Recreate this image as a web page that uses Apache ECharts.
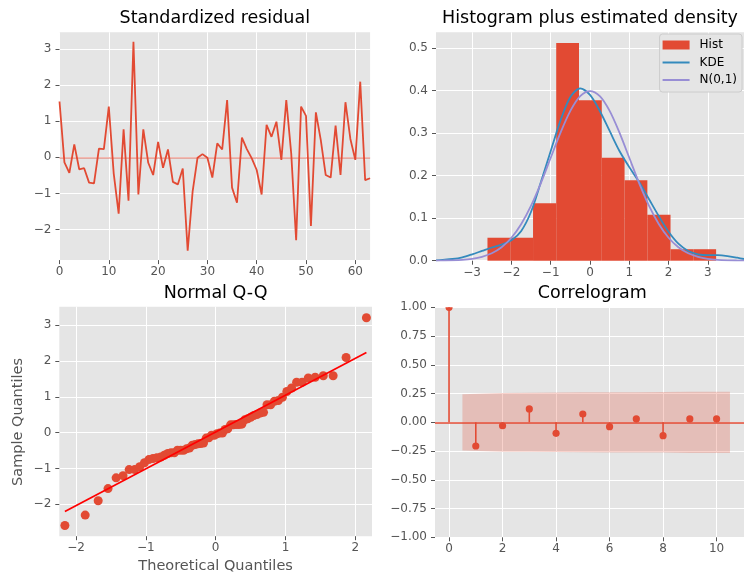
<!DOCTYPE html>
<html><head><meta charset="utf-8">
<script src="https://cdn.jsdelivr.net/npm/echarts@6/dist/echarts.min.js"></script>
<style>html,body{margin:0;padding:0;background:#fff}#c{width:744px;height:576px}</style>
</head><body><div id="c"></div>
<script>
// ---------- Standardized residual ----------
const residuals = [1.55, -0.14, -0.43, 0.36, -0.33, -0.30, -0.70, -0.72, 0.24, 0.23,
  1.41, -0.45, -1.56, 0.78, -1.20, 3.21, -1.03, 0.78, -0.15, -0.49,
  0.43, -0.29, 0.22, -0.68, -0.75, -0.31, -2.59, -0.95, -0.01, 0.09,
  -0.01, -0.56, 0.39, 0.22, 1.59, -0.84, -1.26, 0.55, 0.23, -0.03,
  -0.35, -1.03, 0.90, 0.57, 0.99, -0.07, 1.59, 0.11, -2.30, 1.41,
  1.15, -1.90, 1.25, 0.48, -0.49, -0.56, 0.88, -0.49, 1.53, 0.51,
  -0.07, 2.10, -0.63, -0.58];
const residXTicks = [0, 10, 20, 30, 40, 50, 60];
const residYTicks = [-2, -1, 0, 1, 2, 3];

// ---------- Histogram plus estimated density ----------
const histEdges = [-2.61, -2.03, -1.45, -0.86, -0.28, 0.30, 0.88, 1.46, 2.05, 2.63, 3.21];
const histDensity = [0.054, 0.054, 0.135, 0.512, 0.377, 0.242, 0.189, 0.108, 0.027, 0.027];
const densityX = [-3.92, -3.75, -3.5, -3.25, -3, -2.75, -2.5, -2.25, -2, -1.75, -1.5, -1.25, -1, -0.75, -0.5, -0.25,
  0, 0.25, 0.5, 0.75, 1, 1.25, 1.5, 1.75, 2, 2.25, 2.5, 2.75, 3, 3.25, 3.5, 3.75, 3.92];
const kdeY = [0.001, 0.002, 0.004, 0.008, 0.015, 0.023, 0.031, 0.038, 0.048, 0.070, 0.115, 0.185, 0.258, 0.330, 0.385, 0.405,
  0.390, 0.352, 0.305, 0.258, 0.220, 0.185, 0.145, 0.105, 0.068, 0.040, 0.023, 0.015, 0.013, 0.013, 0.011, 0.007, 0.004];
const normY = [0.0002, 0.0004, 0.0009, 0.0020, 0.0044, 0.0091, 0.0175, 0.0317, 0.0540, 0.0863, 0.1295, 0.1826, 0.2420, 0.3011, 0.3521, 0.3867,
  0.3989, 0.3867, 0.3521, 0.3011, 0.2420, 0.1826, 0.1295, 0.0863, 0.0540, 0.0317, 0.0175, 0.0091, 0.0044, 0.0020, 0.0009, 0.0004, 0.0002];
const histXTicks = [-3, -2, -1, 0, 1, 2, 3];
const histYTicks = [0, 0.1, 0.2, 0.3, 0.4, 0.5];

// ---------- Normal Q-Q ----------
const qqTheoretical = [-2.160, -1.869, -1.683, -1.542, -1.426, -1.327, -1.239, -1.160, -1.088, -1.020, -0.957, -0.898, -0.842, -0.788, -0.736, -0.686,
  -0.638, -0.592, -0.547, -0.502, -0.459, -0.417, -0.375, -0.334, -0.293, -0.253, -0.214, -0.174, -0.135, -0.097, -0.058, -0.019,
  0.019, 0.058, 0.097, 0.135, 0.174, 0.214, 0.253, 0.293, 0.334, 0.375, 0.417, 0.459, 0.502, 0.547, 0.592, 0.638,
  0.686, 0.736, 0.788, 0.842, 0.898, 0.957, 1.020, 1.088, 1.160, 1.239, 1.327, 1.426, 1.542, 1.683, 1.869, 2.160];
const qqSample = [-2.59, -2.30, -1.90, -1.56, -1.26, -1.20, -1.03, -1.03, -0.95, -0.84,
  -0.75, -0.72, -0.70, -0.68, -0.63, -0.58, -0.56, -0.56, -0.49, -0.49,
  -0.49, -0.45, -0.43, -0.35, -0.33, -0.31, -0.30, -0.29, -0.15, -0.14,
  -0.07, -0.07, -0.03, -0.01, -0.01, 0.09, 0.11, 0.22, 0.22, 0.23,
  0.23, 0.24, 0.36, 0.39, 0.43, 0.48, 0.51, 0.55, 0.57, 0.78,
  0.78, 0.88, 0.90, 0.99, 1.15, 1.25, 1.41, 1.41, 1.53, 1.55,
  1.59, 1.59, 2.10, 3.21];
const qqLineX = [-2.16, 2.16];
const qqLineY = [-2.20, 2.24];
const qqXTicks = [-2, -1, 0, 1, 2];
const qqYTicks = [-2, -1, 0, 1, 2, 3];

// ---------- Correlogram ----------
const acfLags = [0, 1, 2, 3, 4, 5, 6, 7, 8, 9, 10];
const acfValues = [1.0, -0.206, -0.030, 0.116, -0.096, 0.072, -0.038, 0.029, -0.116, 0.029, 0.029];
const bandX = [0.5, 2, 3, 4, 5, 6, 7, 8, 9, 10.5];
const bandUpper = [0.245, 0.255, 0.256, 0.259, 0.261, 0.262, 0.262, 0.263, 0.266, 0.266];
const bandLower = [-0.245, -0.255, -0.256, -0.259, -0.261, -0.262, -0.262, -0.263, -0.266, -0.266];
const acfXTicks = [0, 2, 4, 6, 8, 10];
const acfYTicks = [-1, -0.75, -0.5, -0.25, 0, 0.25, 0.5, 0.75, 1];

// ---------- styling ----------
const FONT = 'DejaVu Sans';
const RED = '#E24A33', BLUE = '#348ABD', PURPLE = '#988ED5';
const LINE_ICON = 'path://M0,0H27V2H0Z';
function fmt(d) { return v => Number(v).toFixed(d).replace('-', '\u2212'); }
function axis(gridIndex, min, max, step, ticks, dec, margin) {
  return {
    type: 'value', gridIndex, min, max, minInterval: step, maxInterval: step,
    axisLine: { show: false, onZero: false },
    axisTick: { show: true, inside: false, length: 4, lineStyle: { color: '#555555', width: 1 }, customValues: ticks },
    axisLabel: { customValues: ticks, color: '#555555', fontSize: 12, fontFamily: FONT, margin: margin, formatter: fmt(dec) },
    splitLine: { show: true, lineStyle: { color: '#ffffff', width: 1 } }
  };
}
const gridBase = { show: true, backgroundColor: '#E5E5E5', borderWidth: 0, containLabel: false };

const chart = echarts.init(document.getElementById('c'), null, { renderer: 'canvas', width: 744, height: 576 });

const histItems = histDensity.map((h, i) => [histEdges[i], histEdges[i + 1], h]);

const option = {
  backgroundColor: '#ffffff',
  animation: false,
  grid: [
    Object.assign({ left: 59.5, top: 32.3, width: 310.6, height: 227.8 }, gridBase),
    Object.assign({ left: 436, top: 32.3, width: 311.5, height: 228.4 }, gridBase),
    Object.assign({ left: 59.3, top: 306.7, width: 312.7, height: 229.5 }, gridBase),
    Object.assign({ left: 435, top: 307.3, width: 314.6, height: 230 }, gridBase)
  ],
  xAxis: [
    axis(0, 0, 63, 10, residXTicks, 0, 6),
    axis(1, -3.92, 3.92, 1, histXTicks, 0, 6),
    axis(2, -2.24, 2.24, 1, qqXTicks, 0, 6),
    axis(3, -0.525, 11.025, 2, acfXTicks, 0, 6)
  ],
  yAxis: [
    axis(0, -2.85, 3.47, 1, residYTicks, 0, 8),
    axis(1, 0, 0.537, 0.1, histYTicks, 1, 8),
    axis(2, -2.89, 3.52, 1, qqYTicks, 0, 8),
    axis(3, -1, 1, 0.25, acfYTicks, 2, 8)
  ],
  legend: {
    data: [{ name: 'Hist', icon: 'rect' }, { name: 'KDE', icon: LINE_ICON }, { name: 'N(0,1)', icon: LINE_ICON }],
    orient: 'vertical', right: 2, top: 34,
    itemWidth: 27, itemHeight: 9, itemGap: 5.5, symbolKeepAspect: true,
    textStyle: { fontFamily: FONT, fontSize: 12, color: '#000000', padding: [0, 0, 0, 5] },
    backgroundColor: '#E5E5E5', borderColor: '#CCCCCC', borderWidth: 1, borderRadius: 3,
    padding: [5, 5, 6, 3], selectedMode: false
  },
  series: [
    {
      type: 'line', xAxisIndex: 0, yAxisIndex: 0,
      data: residuals.map((v, i) => [i, v]),
      symbol: 'none', lineStyle: { color: RED, width: 1.8 }, z: 3,
      markLine: { silent: true, symbol: 'none', label: { show: false },
        lineStyle: { color: RED, opacity: 0.5, width: 1.6, type: 'solid' },
        data: [{ yAxis: 0 }] }
    },
    {
      name: 'Hist', type: 'custom', xAxisIndex: 1, yAxisIndex: 1,
      data: histItems, encode: { x: [0, 1], y: 2 },
      itemStyle: { color: RED },
      renderItem: function (params, api) {
        const p0 = api.coord([api.value(0), api.value(2)]);
        const p1 = api.coord([api.value(1), 0]);
        return { type: 'rect', shape: { x: p0[0], y: p0[1], width: p1[0] - p0[0], height: p1[1] - p0[1] },
          style: { fill: RED } };
      }, z: 2
    },
    {
      name: 'KDE', type: 'line', xAxisIndex: 1, yAxisIndex: 1,
      data: densityX.map((x, i) => [x, kdeY[i]]), smooth: 0.3,
      symbol: 'none', lineStyle: { color: BLUE, width: 1.8 }, itemStyle: { color: BLUE }, z: 4
    },
    {
      name: 'N(0,1)', type: 'line', xAxisIndex: 1, yAxisIndex: 1,
      data: densityX.map((x, i) => [x, normY[i]]), smooth: 0.3,
      symbol: 'none', lineStyle: { color: PURPLE, width: 1.8 }, itemStyle: { color: PURPLE }, z: 4
    },
    {
      type: 'scatter', xAxisIndex: 2, yAxisIndex: 2,
      data: qqTheoretical.map((x, i) => [x, qqSample[i]]),
      symbolSize: 9, itemStyle: { color: RED, opacity: 1 }, z: 3
    },
    {
      type: 'line', xAxisIndex: 2, yAxisIndex: 2,
      data: qqLineX.map((x, i) => [x, qqLineY[i]]),
      symbol: 'none', lineStyle: { color: '#FF0000', width: 1.7 }, z: 4
    },
    {
      type: 'custom', xAxisIndex: 3, yAxisIndex: 3,
      data: acfLags.map((l, i) => [l, acfValues[i]]),
      renderItem: function (params, api) {
        const a = api.coord([api.value(0), 0]);
        const b = api.coord([api.value(0), api.value(1)]);
        return { type: 'line', shape: { x1: a[0], y1: a[1], x2: b[0], y2: b[1] },
          style: { stroke: RED, lineWidth: 1.6 } };
      }, z: 2
    },
    {
      type: 'custom', xAxisIndex: 3, yAxisIndex: 3, clip: true,
      data: acfLags.map((l, i) => [l, acfValues[i]]),
      renderItem: function (params, api) {
        const c = api.coord([api.value(0), api.value(1)]);
        return { type: 'circle', shape: { cx: c[0], cy: c[1], r: 3.6 }, style: { fill: RED } };
      }, z: 3,
      markLine: { silent: true, symbol: 'none', label: { show: false },
        lineStyle: { color: RED, width: 1.6, type: 'solid' },
        data: [{ yAxis: 0 }] }
    },
    {
      type: 'custom', xAxisIndex: 3, yAxisIndex: 3,
      data: [[bandX[0], bandUpper[0]]],
      renderItem: function (params, api) {
        const pts = bandX.map((x, i) => api.coord([x, bandUpper[i]]));
        for (let i = bandX.length - 1; i >= 0; i--) pts.push(api.coord([bandX[i], bandLower[i]]));
        return { type: 'polygon', shape: { points: pts }, style: { fill: 'rgba(226,74,51,0.25)' } };
      }, z: 5
    }
  ],
  graphic: [
    { type: 'text', x: 214.8, y: 18, style: { text: 'Standardized residual', font: '17.5px "DejaVu Sans"', fill: '#000', align: 'center', verticalAlign: 'middle', textAlign: 'center', textVerticalAlign: 'middle' } },
    { type: 'text', x: 590, y: 18, style: { text: 'Histogram plus estimated density', font: '17.5px "DejaVu Sans"', fill: '#000', align: 'center', verticalAlign: 'middle', textAlign: 'center', textVerticalAlign: 'middle' } },
    { type: 'text', x: 215.6, y: 293, style: { text: 'Normal Q-Q', font: '17.5px "DejaVu Sans"', fill: '#000', align: 'center', verticalAlign: 'middle', textAlign: 'center', textVerticalAlign: 'middle' } },
    { type: 'text', x: 592.3, y: 293, style: { text: 'Correlogram', font: '17.5px "DejaVu Sans"', fill: '#000', align: 'center', verticalAlign: 'middle', textAlign: 'center', textVerticalAlign: 'middle' } },
    { type: 'text', x: 215.6, y: 566, style: { text: 'Theoretical Quantiles', font: '14.5px "DejaVu Sans"', fill: '#555555', align: 'center', verticalAlign: 'middle', textAlign: 'center', textVerticalAlign: 'middle' } },
    { type: 'text', x: 18, y: 422, rotation: Math.PI / 2, style: { text: 'Sample Quantiles', font: '14.5px "DejaVu Sans"', fill: '#555555', align: 'center', verticalAlign: 'middle', textAlign: 'center', textVerticalAlign: 'middle' } }
  ]
};
chart.setOption(option);
</script>
</body></html>
